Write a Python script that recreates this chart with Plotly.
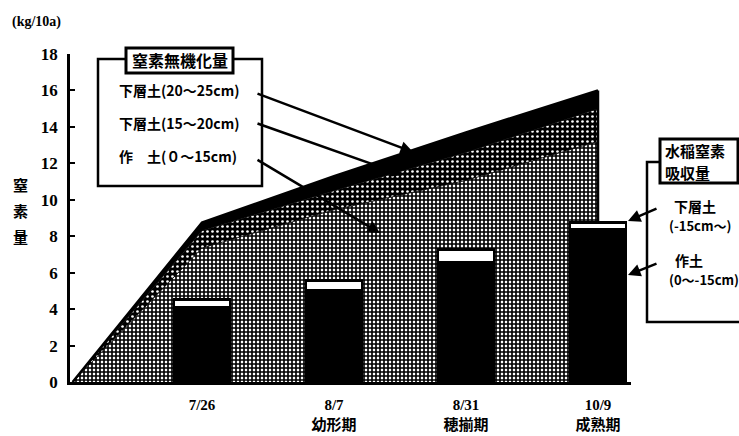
import plotly.graph_objects as go

# ---- data ----
dates = ["7/26", "8/7", "8/31", "10/9"]
stages = ["", "幼形期", "穂揃期", "成熟期"]
date_pos = [0, 1, 2, 3]

# mineralised N (kg/10a) per soil layer, stacked; first point = start (transplanting)
area_x = [-0.98, 0, 1, 2, 3]
topsoil_min = [0, 7.35, 9.45, 11.06, 13.2]      # 作土(0～15cm)
sub15_min = [0, 0.95, 1.05, 1.54, 1.8]          # 下層土(15～20cm)
sub20_min = [0, 0.45, 0.8, 1.1, 1.0]            # 下層土(20～25cm)

# rice N uptake (kg/10a)
uptake_topsoil = [4.1, 5.06, 6.55, 8.36]        # 作土(0～-15cm)
uptake_subsoil = [0.42, 0.5, 0.71, 0.39]        # 下層土(-15cm～)

y_ticks = [0, 2, 4, 6, 8, 10, 12, 14, 16, 18]

# ---- layout helpers (pixel -> paper) ----
W, H = 739, 436
L, R, T, B = 70, 631, 54, 382
def px(x):
    return (x - L) / (R - L)
def py(y):
    return (B - y) / (B - T)

JP = "Noto Sans CJK JP"
SERIF = "Liberation Serif, Noto Sans CJK JP"

fig = go.Figure()

fig.add_trace(go.Scatter(
    x=area_x, y=topsoil_min, stackgroup="min", mode="lines",
    line=dict(color="black", width=0.8),
    fillpattern=dict(shape="+", size=4, solidity=0.65,
                     fgcolor="black", bgcolor="white", fillmode="replace"),
    hoverinfo="skip", showlegend=False))
fig.add_trace(go.Scatter(
    x=area_x, y=sub15_min, stackgroup="min", mode="lines",
    line=dict(color="black", width=0.8),
    fillpattern=dict(shape=".", size=5, solidity=0.22,
                     fgcolor="white", bgcolor="black", fillmode="replace"),
    hoverinfo="skip", showlegend=False))
fig.add_trace(go.Scatter(
    x=area_x, y=sub20_min, stackgroup="min", mode="lines",
    line=dict(color="black", width=2.5),
    fillcolor="black",
    hoverinfo="skip", showlegend=False))

# right edge of the mineralisation area
last_total = topsoil_min[-1] + sub15_min[-1] + sub20_min[-1]
fig.add_trace(go.Scatter(
    x=[area_x[-1], area_x[-1]], y=[0, last_total], mode="lines",
    line=dict(color="black", width=2.5), hoverinfo="skip", showlegend=False))

# bars on an overlaid axis pair so they sit above the filled area
fig.add_trace(go.Bar(
    x=date_pos, y=uptake_topsoil, width=0.424,
    marker=dict(color="black", line=dict(color="black", width=1.5)),
    xaxis="x2", yaxis="y2", hoverinfo="skip", showlegend=False))
fig.add_trace(go.Bar(
    x=date_pos, y=uptake_subsoil, width=0.424,
    marker=dict(color="white", line=dict(color="black", width=2.5)),
    xaxis="x2", yaxis="y2", hoverinfo="skip", showlegend=False))

xr = [-1.0, 3.25]
yr = [0, 18]
ticktext = [d if not s else f"{d}<br>{s}" for d, s in zip(dates, stages)]

fig.update_layout(
    width=W, height=H,
    margin=dict(l=L, r=W - R, t=T, b=H - B, pad=0, autoexpand=False),
    paper_bgcolor="white", plot_bgcolor="white",
    barmode="stack", showlegend=False,
    xaxis=dict(range=xr, showgrid=False, zeroline=False, automargin=False,
               showline=True, linecolor="black", linewidth=3,
               tickmode="array", tickvals=date_pos, ticktext=ticktext,
               ticks="", ticklabelstandoff=7,
               tickfont=dict(family=SERIF, size=15, color="black", weight="bold")),
    yaxis=dict(range=yr, showgrid=False, zeroline=False, automargin=False,
               showline=True, linecolor="black", linewidth=2.5,
               tickmode="array", tickvals=y_ticks,
               ticks="inside", ticklen=5, tickwidth=2, tickcolor="black",
               ticklabelstandoff=6,
               tickfont=dict(family=SERIF, size=17, color="black", weight="bold")),
    xaxis2=dict(range=xr, overlaying="x", visible=False, anchor="y2", automargin=False),
    yaxis2=dict(range=yr, overlaying="y", visible=False, anchor="x2", automargin=False),
)

shapes = [
    # left legend box
    dict(type="rect", xref="paper", yref="paper", x0=px(98), x1=px(262), y0=py(186), y1=py(59),
         line=dict(color="black", width=2.5), fillcolor="white", layer="above"),
    dict(type="rect", xref="paper", yref="paper", x0=px(126), x1=px(233), y0=py(73), y1=py(48),
         line=dict(color="black", width=3), fillcolor="white", layer="above"),
    # right legend box
    dict(type="rect", xref="paper", yref="paper", x0=px(647), x1=px(760), y0=py(322), y1=py(162),
         line=dict(color="black", width=2.5), fillcolor="white", layer="above"),
    dict(type="rect", xref="paper", yref="paper", x0=px(660), x1=px(738), y0=py(183), y1=py(139),
         line=dict(color="black", width=3), fillcolor="white", layer="above"),
]
fig.update_layout(shapes=shapes)

def txt(x, y, s, size=15, family=JP, xanchor="left", align="left"):
    return dict(xref="paper", yref="paper", x=px(x), y=py(y), text=s, showarrow=False,
                xanchor=xanchor, yanchor="middle", align=align,
                font=dict(family=family, size=size, color="black", weight="bold"))

def arrow(tx, ty, hx, hy):
    return dict(xref="paper", yref="paper", x=px(hx), y=py(hy), text="",
                showarrow=True, ax=tx - hx, ay=ty - hy, arrowhead=2, arrowsize=1,
                arrowwidth=2.5, arrowcolor="black", standoff=0)

ann = [
    txt(10, 22, "(kg/10a)", size=14, family=SERIF),
    txt(20, 184, "窒", size=15, xanchor="center", align="center"),
    txt(20, 210, "素", size=15, xanchor="center", align="center"),
    txt(20, 236, "量", size=15, xanchor="center", align="center"),
    txt(179.5, 60.5, "窒素無機化量", size=16, xanchor="center", align="center"),
    txt(117, 90, "下層土(20～25cm)", size=14),
    txt(117, 123, "下層土(15～20cm)", size=14),
    txt(117, 156, "作　土(０～15cm)", size=14),
    txt(663, 150, "水稲窒素", size=15),
    txt(663, 172, "吸収量", size=15),
    txt(672, 206, "下層土", size=14),
    txt(667, 225, "(-15cm～)", size=13),
    txt(673, 260, "作土", size=14),
    txt(667, 279, "(0～-15cm)", size=13),
    arrow(256, 93, 413, 152),
    arrow(256, 123, 403, 175),
    arrow(256, 159, 380, 233),
    arrow(658, 208, 628, 221),
    arrow(658, 263, 628, 275),
]
fig.update_layout(annotations=ann)

fig.write_html("out.html")
